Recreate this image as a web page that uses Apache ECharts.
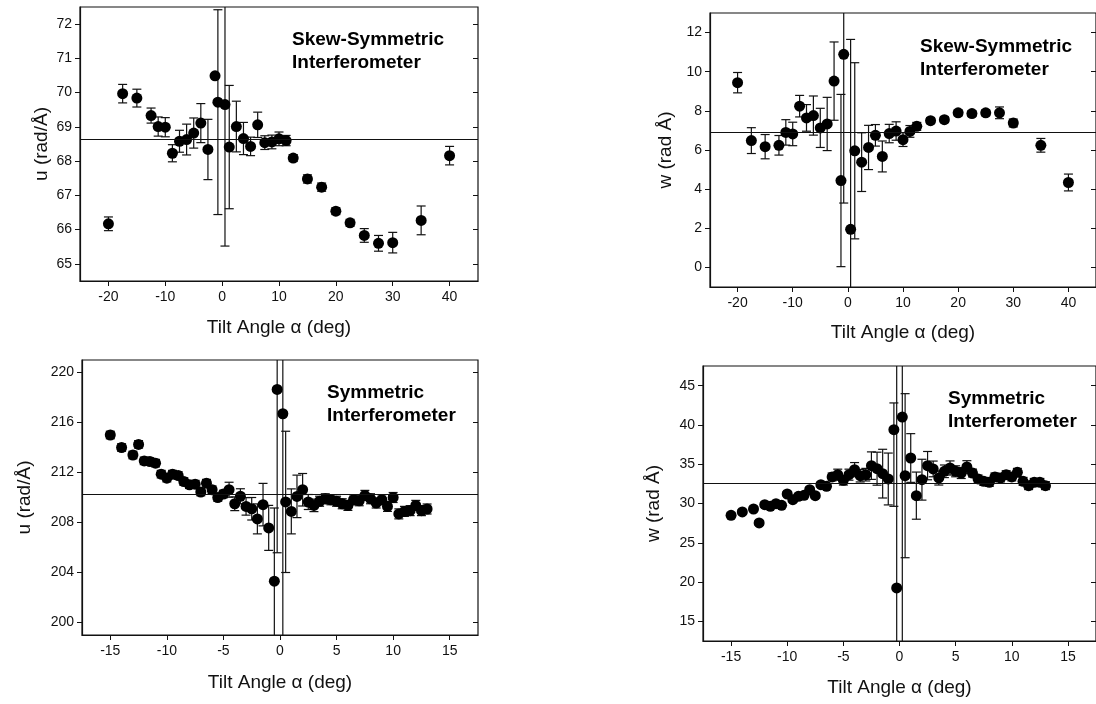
<!DOCTYPE html>
<html>
<head>
<meta charset="UTF-8">
<title>Tilt angle scans</title>
<script src="https://cdn.jsdelivr.net/npm/echarts@6.0.0/dist/echarts.min.js"></script>
<style>
  html, body { margin: 0; padding: 0; background: #fff; }
  #chart { width: 1096px; height: 704px; }
</style>
</head>
<body>
<div id="chart"></div>
<script>
// ---- data ----
// skew-symmetric interferometer, tilt angles
var skewX = [-20, -17.5, -15, -12.5, -11.25, -10, -8.75, -7.5, -6.25, -5, -3.75, -2.5, -1.25, -0.75,
  0.5, 1.25, 2.5, 3.75, 5, 6.25, 7.5, 8.75, 10, 11.25, 12.5, 15, 17.5, 20, 22.5, 25, 27.5, 30, 35, 40];
var skewU = [66.17, 69.97, 69.84, 69.33, 69.01, 68.99, 68.23, 68.58, 68.63, 68.82, 69.11, 68.34, 70.49, 69.72,
  69.65, 68.41, 69.01, 68.66, 68.43, 69.06, 68.54, 68.56, 68.65, 68.6, 68.09, 67.48, 67.24, 66.54, 66.2, 65.83, 65.6, 65.62, 66.27, 68.16];
// error: number = symmetric, [down, up] = asymmetric
var skewUErr = [0.2, 0.27, 0.26, 0.22, 0.28, 0.28, 0.25, 0.32, 0.45, 0.44, 0.57, 0.88, 0, [3.28, 2.7],
  4.13, 1.8, 0.74, 0.47, 0.27, 0.37, 0.2, 0.2, 0.2, 0.15, 0.1, 0.12, 0.12, 0.1, 0.1, 0.2, 0.23, 0.3, 0.42, 0.27];
var skewURef = 68.63;

var skewW = [9.44, 6.48, 6.17, 6.24, 6.9, 6.82, 8.24, 7.64, 7.76, 7.13, 7.33, 9.52, 4.44, 10.89,
  1.95, 5.96, 5.38, 6.13, 6.75, 5.67, 6.84, 6.97, 6.53, 6.95, 7.21, 7.5, 7.55, 7.9, 7.86, 7.9, 7.9, 7.38, 6.24, 4.34];
var skewWErr = [0.52, 0.66, 0.62, 0.5, 0.65, 0.6, 0.55, 0.68, 1.0, 1.0, 1.36, 2.0, 4.4, 7.6,
  9.7, 4.5, 1.5, 1.13, 0.55, 0.79, 0.47, 0.47, 0.35, 0.3, 0.2, 0.15, 0.15, 0.15, 0.15, 0.15, 0.3, 0.2, 0.35, 0.43];
var skewWRef = 6.93;

// symmetric interferometer
var symX = [-15, -14, -13, -12.5, -12, -11.5, -11, -10.5, -10, -9.5, -9, -8.5, -8, -7.5, -7, -6.5, -6, -5.5, -5,
  -4.5, -4, -3.5, -3, -2.5, -2, -1.5, -1, -0.5, -0.25, 0.25, 0.5, 1, 1.5, 2, 2.5, 3, 3.5, 4, 4.5, 5,
  5.5, 6, 6.5, 7, 7.5, 8, 8.5, 9, 9.5, 10, 10.5, 11, 11.5, 12, 12.5, 13];
var symU = [215.0, 214.0, 213.4, 214.25, 212.93, 212.88, 212.75, 211.87, 211.55, 211.87, 211.76, 211.28, 211.02, 211.07, 210.44, 211.15, 210.62, 210.0, 210.28,
  210.62, 209.5, 210.1, 209.29, 209.1, 208.29, 209.43, 207.57, 203.31, 218.65, 216.7, 209.65, 208.89, 210.09, 210.62, 209.64, 209.37, 209.7, 209.9, 209.82, 209.7,
  209.5, 209.37, 209.82, 209.74, 210.17, 209.9, 209.56, 209.82, 209.29, 210.0, 208.69, 208.89, 208.95, 209.37, 208.95, 209.08];
var symUErr = [0.3, 0.3, 0.3, 0.3, 0.3, 0.3, 0.3, 0.3, 0.3, 0.3, 0.3, 0.3, 0.3, 0.3, 0.3, 0.3, 0.3, 0.3, 0.3,
  0.6, 0.55, 0.6, 0.7, 0.9, 1.2, 1.7, 1.8, [20, 5.85], [13.07, 20], 20, 5.65, 1.8, 1.7, 1.3, 0.6, 0.5, 0.4, 0.4, 0.4, 0.4,
  0.4, 0.4, 0.4, 0.4, 0.4, 0.4, 0.4, 0.4, 0.4, 0.4, 0.4, 0.4, 0.4, 0.4, 0.4, 0.4];
var symURef = 210.28;

var symW = [28.5, 28.92, 29.3, 27.52, 29.85, 29.64, 29.98, 29.77, 31.21, 30.49, 30.91, 31.04, 31.76, 31.0, 32.4, 32.18, 33.38, 33.67, 32.95,
  33.67, 34.31, 33.54, 33.67, 34.82, 34.43, 33.8, 33.12, 39.4, 19.25, 41.0, 33.54, 35.79, 31.0, 33.03, 34.82, 34.4, 33.25, 34.1, 34.52, 34.1,
  33.88, 34.65, 33.88, 33.12, 32.82, 32.69, 33.38, 33.25, 33.67, 33.38, 33.97, 32.82, 32.27, 32.69, 32.69, 32.27];
var symWErr = [0.3, 0.3, 0.3, 0.3, 0.3, 0.3, 0.3, 0.3, 0.3, 0.3, 0.3, 0.3, 0.3, 0.3, 0.3, 0.3, 0.5, 0.7, 0.6,
  0.7, 0.9, 0.8, 0.8, 1.75, 2.1, 3.1, 3.3, [9.76, 3.4], 40, 40, 10.44, 3.1, 3.0, 2.6, 1.8, 1.0, 0.9, 0.8, 0.9, 0.7,
  0.7, 0.8, 0.5, 0.5, 0.5, 0.5, 0.5, 0.5, 0.5, 0.5, 0.5, 0.5, 0.5, 0.5, 0.5, 0.5];
var symWRef = 32.62;

// tick labels
var skewXTicks = [-20, -10, 0, 10, 20, 30, 40];
var symXTicks = [-15, -10, -5, 0, 5, 10, 15];
var skewUTicks = [65, 66, 67, 68, 69, 70, 71, 72];
var skewWTicks = [0, 2, 4, 6, 8, 10, 12];
var symUTicks = [200, 204, 208, 212, 216, 220];
var symWTicks = [15, 20, 25, 30, 35, 40, 45];

var FONT = 'Liberation Sans, Arial, sans-serif';
var INK = '#111';

var panels = [
  { xs: skewX, ys: skewU, err: skewUErr, ref: skewURef, xMin: -25, xMax: 45, xTicks: skewXTicks,
    yMin: 64.5, yMax: 72.5, yTicks: skewUTicks, yName: 'u (rad/Å)', note: 'Skew-Symmetric\nInterferometer',
    grid: { left: 80, top: 7, width: 398, height: 274 }, xGap: 37, yGap: 29, notePos: [292, 28] },
  { xs: skewX, ys: skewW, err: skewWErr, ref: skewWRef, xMin: -25, xMax: 45, xTicks: skewXTicks,
    yMin: -1, yMax: 13, yTicks: skewWTicks, yName: 'w (rad Å)', note: 'Skew-Symmetric\nInterferometer',
    grid: { left: 710, top: 13, width: 397, height: 274 }, xGap: 36, yGap: 35, notePos: [920, 35] },
  { xs: symX, ys: symU, err: symUErr, ref: symURef, xMin: -17.5, xMax: 17.5, xTicks: symXTicks,
    yMin: 199, yMax: 221, yTicks: symUTicks, yName: 'u (rad/Å)', note: 'Symmetric\nInterferometer',
    grid: { left: 82, top: 360, width: 396, height: 275 }, xGap: 38, yGap: 48, notePos: [327, 381] },
  { xs: symX, ys: symW, err: symWErr, ref: symWRef, xMin: -17.5, xMax: 17.5, xTicks: symXTicks,
    yMin: 12.5, yMax: 47.5, yTicks: symWTicks, yName: 'w (rad Å)', note: 'Symmetric\nInterferometer',
    grid: { left: 703, top: 366, width: 396, height: 275 }, xGap: 37, yGap: 40, notePos: [948, 387] }
];

function errRange(xs, ys, err) {
  return xs.map(function (x, k) {
    var e = err[k];
    var dn = Array.isArray(e) ? e[0] : e;
    var up = Array.isArray(e) ? e[1] : e;
    return [x, ys[k] - dn, ys[k] + up];
  });
}

function renderErr(params, api) {
  var top = api.coord([api.value(0), api.value(2)]);
  var bot = api.coord([api.value(0), api.value(1)]);
  var w = 4.5;
  var st = { stroke: INK, lineWidth: 1.2 };
  return {
    type: 'group',
    children: [
      { type: 'line', shape: { x1: top[0], y1: top[1], x2: bot[0], y2: bot[1] }, style: st },
      { type: 'line', shape: { x1: top[0] - w, y1: top[1], x2: top[0] + w, y2: top[1] }, style: st },
      { type: 'line', shape: { x1: bot[0] - w, y1: bot[1], x2: bot[0] + w, y2: bot[1] }, style: st }
    ]
  };
}

var grids = [], xAxes = [], yAxes = [], series = [], graphics = [];

panels.forEach(function (p, i) {
  grids.push({ left: p.grid.left, top: p.grid.top, width: p.grid.width, height: p.grid.height,
    show: true, borderColor: INK, borderWidth: 1.2, backgroundColor: 'transparent' });

  xAxes.push({
    type: 'value', gridIndex: i, min: p.xMin, max: p.xMax,
    name: 'Tilt Angle α (deg)', nameLocation: 'middle', nameGap: p.xGap,
    nameTextStyle: { fontSize: 19, color: INK, fontFamily: FONT },
    axisLine: { show: true, onZero: false, lineStyle: { color: INK, width: 1.2 } },
    axisTick: { show: true, inside: false, length: 5, customValues: p.xTicks, lineStyle: { color: INK } },
    axisLabel: { customValues: p.xTicks, fontSize: 14, color: INK, margin: 9, fontFamily: FONT },
    splitLine: { show: false }
  });

  yAxes.push({
    type: 'value', gridIndex: i, position: 'left', min: p.yMin, max: p.yMax,
    name: p.yName, nameLocation: 'middle', nameGap: p.yGap, nameRotate: 90,
    nameTextStyle: { fontSize: 19, color: INK, fontFamily: FONT },
    axisLine: { show: true, onZero: false, lineStyle: { color: INK, width: 1.2 } },
    axisTick: { show: true, inside: false, length: 5, customValues: p.yTicks, lineStyle: { color: INK } },
    axisLabel: { customValues: p.yTicks, fontSize: 14, color: INK, margin: 8, fontFamily: FONT },
    splitLine: { show: false }
  });
  // mirror ticks on the right edge, pointing inward
  yAxes.push({
    type: 'value', gridIndex: i, position: 'right', min: p.yMin, max: p.yMax,
    axisLine: { show: false, onZero: false },
    axisTick: { show: true, inside: true, length: 5, customValues: p.yTicks, lineStyle: { color: INK } },
    axisLabel: { show: false },
    splitLine: { show: false }
  });

  series.push({
    type: 'custom', xAxisIndex: i, yAxisIndex: 2 * i, clip: true, silent: true,
    renderItem: renderErr, encode: { x: 0, y: [1, 2] },
    data: errRange(p.xs, p.ys, p.err), z: 2
  });
  series.push({
    type: 'scatter', xAxisIndex: i, yAxisIndex: 2 * i, symbol: 'circle', symbolSize: 11,
    itemStyle: { color: '#000', opacity: 1 }, silent: true, z: 3,
    data: p.xs.map(function (x, k) { return [x, p.ys[k]]; }),
    markLine: {
      silent: true, symbol: 'none', label: { show: false },
      lineStyle: { color: INK, width: 1.1, type: 'solid' },
      data: [{ yAxis: p.ref }]
    }
  });

  graphics.push({
    type: 'text', left: p.notePos[0], top: p.notePos[1], z: 10,
    style: { text: p.note, fill: '#000', fontSize: 19, fontWeight: 'bold', fontFamily: FONT, lineHeight: 23 }
  });
});

var chart = echarts.init(document.getElementById('chart'), null, { renderer: 'canvas' });
chart.setOption({
  backgroundColor: '#fff',
  animation: false,
  grid: grids,
  xAxis: xAxes,
  yAxis: yAxes,
  series: series,
  graphic: graphics
});
</script>
</body>
</html>
